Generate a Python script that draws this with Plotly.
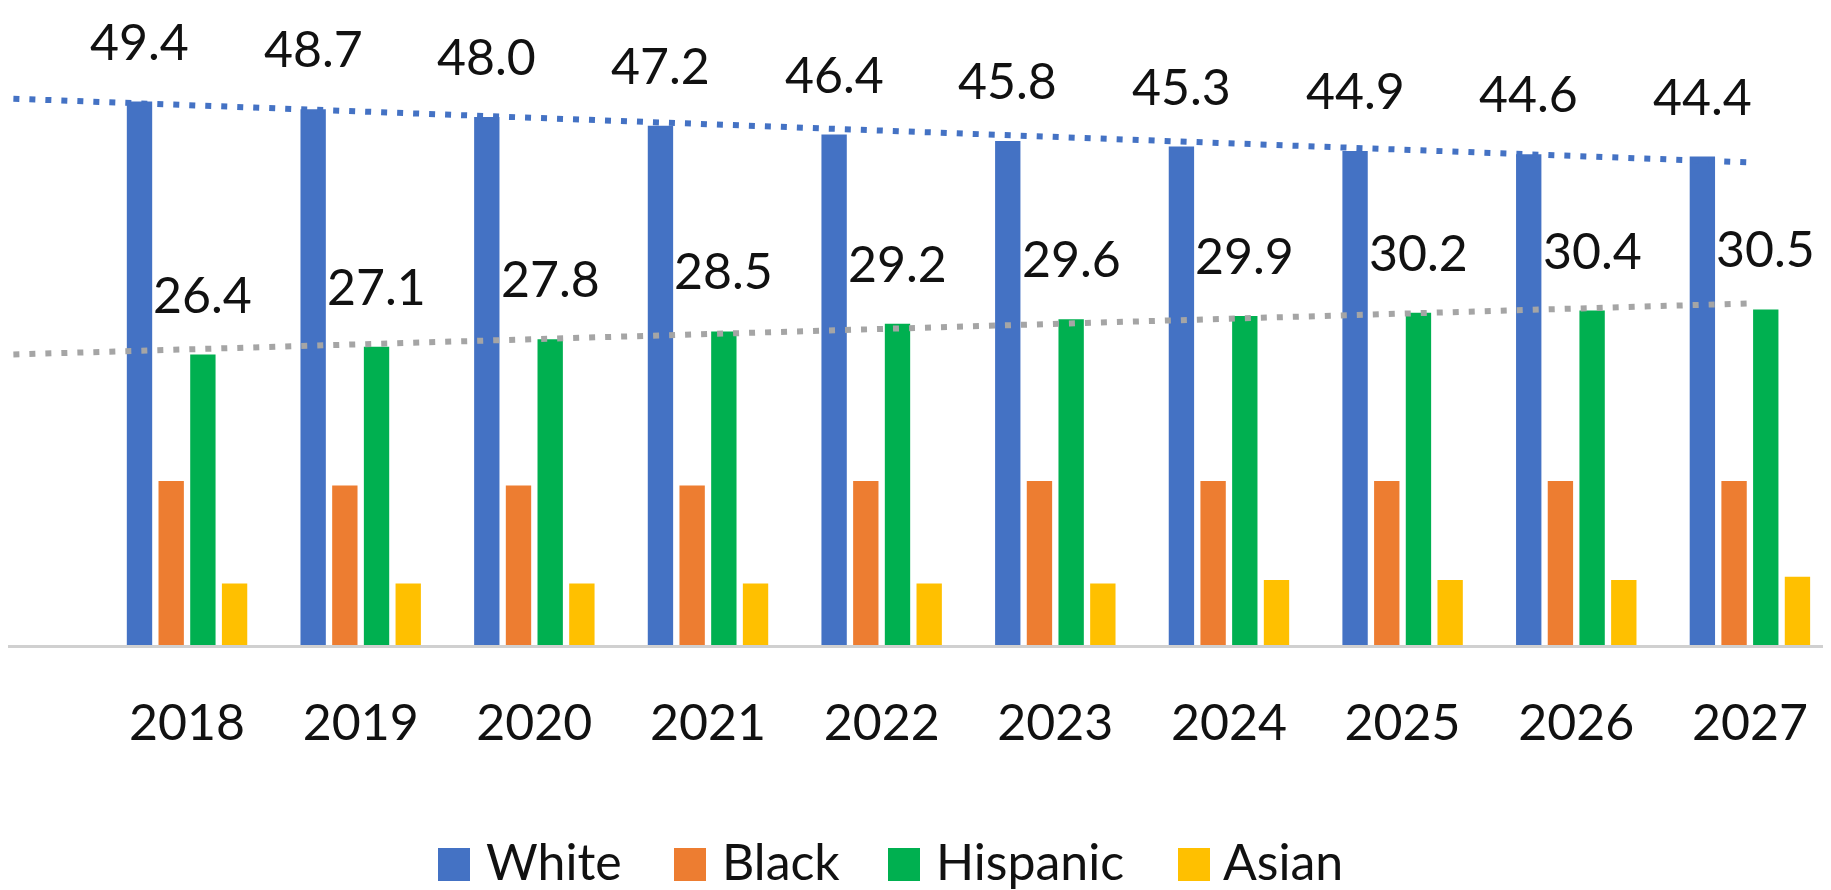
import numpy as np
import plotly.graph_objects as go

# ---------------- data ----------------
years = ["2018", "2019", "2020", "2021", "2022", "2023", "2024", "2025", "2026", "2027"]
white = [49.4, 48.7, 48.0, 47.2, 46.4, 45.8, 45.3, 44.9, 44.6, 44.4]
black = [14.9, 14.5, 14.5, 14.5, 14.9, 14.9, 14.9, 14.9, 14.9, 14.9]
hispanic = [26.4, 27.1, 27.8, 28.5, 29.2, 29.6, 29.9, 30.2, 30.4, 30.5]
asian = [5.6, 5.6, 5.6, 5.6, 5.6, 5.6, 5.9, 5.9, 5.9, 6.2]
series_names = ["White", "Black", "Hispanic", "Asian"]

# ---------------- style ----------------
colors = ["#4472C4", "#ED7D31", "#00B050", "#FFC000"]
trend_colors = {"White": "#4472C4", "Hispanic": "#A5A5A5"}
FONT = "Lato, sans-serif"
FS = 50
W, H = 1831, 890
PAGE_OFF = 8                 # default page body margin
PLOT_BOTTOM = 645 - PAGE_OFF # figure pixel row of the x axis
BARGAP = 0.27
BARGROUPGAP = 0.2
XRANGE = [-1.031, 9.513]
YMAX = 57.9

xs = list(range(len(years)))
slot = (1 - BARGAP) / len(series_names)
offsets = [(k - (len(series_names) - 1) / 2) * slot for k in range(len(series_names))]
values = [white, black, hispanic, asian]

fig = go.Figure()
for name, vals, col in zip(series_names, values, colors):
    fig.add_trace(go.Bar(x=xs, y=vals, name=name, marker=dict(color=col, line=dict(width=0)),
                         showlegend=False))

# linear trendlines (backward forecast one period, like the spreadsheet trendline)
for name in ["White", "Hispanic"]:
    vals = values[series_names.index(name)]
    slope, icpt = np.polyfit(xs, vals, 1)
    tx = [xs[0] - 1, xs[-1]]
    fig.add_trace(go.Scatter(x=tx, y=[icpt + slope * t for t in tx], mode="lines",
                             line=dict(color=trend_colors[name], width=6, dash="6px,10px"),
                             showlegend=False, hoverinfo="skip"))

annotations = []
for name in ["White", "Hispanic"]:
    k = series_names.index(name)
    for xi, v in zip(xs, values[k]):
        annotations.append(dict(x=xi + offsets[k], y=v, xref="x", yref="y", text=f"{v:.1f}",
                                showarrow=False, yanchor="bottom", xanchor="center", yshift=29,
                                font=dict(family=FONT, size=FS, color="#111111")))

# legend drawn manually with large swatches (figure pixel positions)
legend_swatch_x = [430, 666, 880, 1170]
legend_text_x = [476, 712, 926, 1213]
sw_top, sw_bot = 840, 873
legend_mid = 853
def py(p):
    return (PLOT_BOTTOM - p) / PLOT_BOTTOM
shapes = []
for k, name in enumerate(series_names):
    shapes.append(dict(type="rect", xref="paper", yref="paper",
                       x0=legend_swatch_x[k] / W, x1=(legend_swatch_x[k] + 32) / W,
                       y0=py(sw_bot), y1=py(sw_top), fillcolor=colors[k], line=dict(width=0)))
    annotations.append(dict(x=legend_text_x[k] / W, y=py(legend_mid), xref="paper", yref="paper",
                            text=name, showarrow=False, xanchor="left", yanchor="middle",
                            font=dict(family=FONT, size=FS, color="#111111")))

fig.update_layout(
    width=W, height=H,
    margin=dict(l=0, r=0, t=0, b=H - PLOT_BOTTOM, autoexpand=False),
    paper_bgcolor="white", plot_bgcolor="white",
    barmode="group", bargap=BARGAP, bargroupgap=BARGROUPGAP,
    showlegend=False,
    annotations=annotations, shapes=shapes,
    xaxis=dict(range=XRANGE, tickvals=xs, ticktext=years, showgrid=False, zeroline=False,
               showline=True, linecolor="#D0D0D0", linewidth=3, ticks="",
               ticklabelstandoff=32,
               tickfont=dict(family=FONT, size=FS, color="#111111")),
    yaxis=dict(range=[0, YMAX], visible=False, showgrid=False),
)

fig.write_html("out.html")
